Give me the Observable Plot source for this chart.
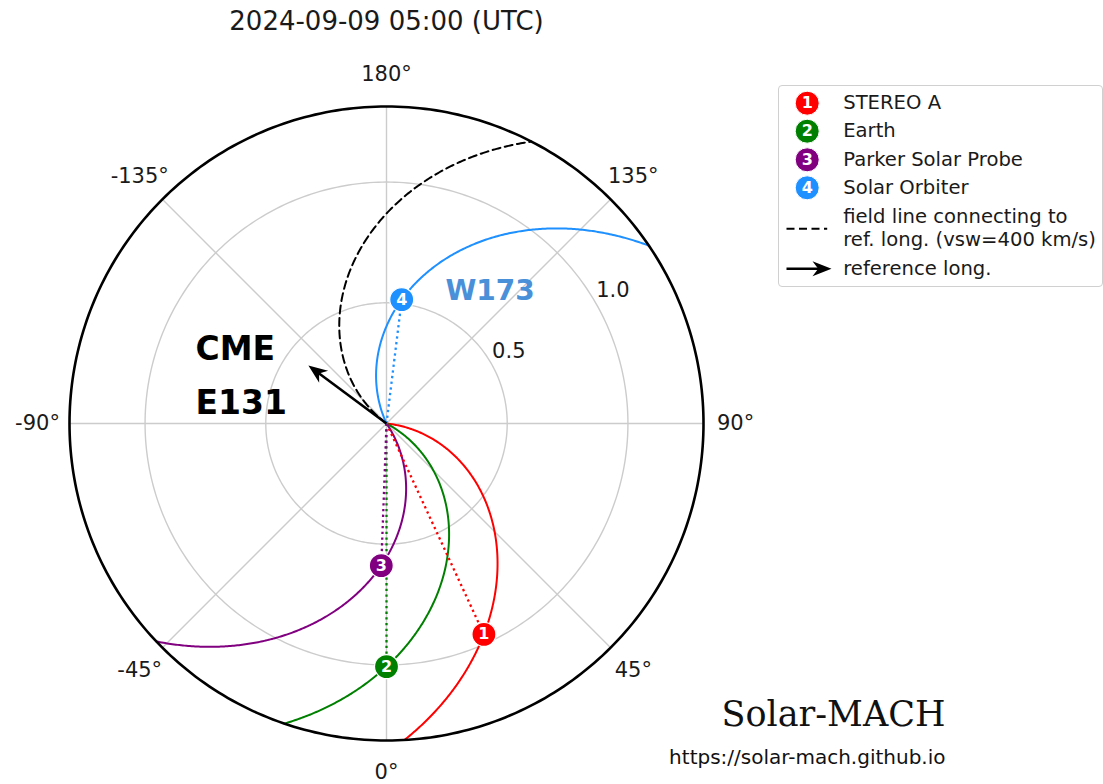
<!DOCTYPE html>
<html><head><meta charset="utf-8">
<script src="https://cdn.jsdelivr.net/npm/d3@7"></script>
<script src="https://cdn.jsdelivr.net/npm/@observablehq/plot@0.6"></script>
<style>
html,body{margin:0;padding:0;background:#fff;}
#wrap{position:relative;width:1103px;height:784px;overflow:hidden;font-family:"DejaVu Sans",sans-serif;}
#legend{position:absolute;left:778px;top:85px;width:325px;height:202px;border:1px solid #d0d0d0;border-radius:4px;background:#fff;box-sizing:border-box;}
#legend svg, #main svg{display:block;}
</style></head><body><div id="wrap"><div id="main"></div><div id="legend"></div></div>
<script>
// ---- data ----
const spacecraft   = ["STEREO A", "Earth", "Parker Solar Probe", "Solar Orbiter"];
const scNumbers    = ["1", "2", "3", "4"];
const scColors     = ["#ff0000", "#008000", "#800080", "#1e90ff"];
const scLongitudes = [24.8, 0.0, -2.1, 173.0];   // deg (Stonyhurst)
const scDistances  = [0.962, 1.007, 0.589, 0.517]; // AU
const refLongitude = -126.6;   // plotted reference direction (deg)
const refArrowLength = 0.403;  // AU
const vsw = 400;               // km/s
const rMax = 1.313;            // AU
const angleTicks  = [0, 45, 90, 135, 180, -135, -90, -45];
const radialTicks = [0.5, 1.0];
const titleText = "2024-09-09 05:00 (UTC)";
const refLabel = "CME\nE131";
const soloLabel = "W173";

// ---- geometry helpers ----
const AU = 1.495978707e8; // km
const omegaDeg = 360 / (25.38 * 86400); // deg/s, sidereal
const k = omegaDeg * AU / vsw; // deg per AU
const rad = d => d * Math.PI / 180;
const P = (r, deg) => ({x: r * Math.sin(rad(deg)), y: -r * Math.cos(rad(deg))});
const rSteps = d3.range(0, 301).map(i => rMax * i / 300);

const scs = spacecraft.map((name, i) => ({
  name, num: scNumbers[i], color: scColors[i], lon: scLongitudes[i], r: scDistances[i],
  ...P(scDistances[i], scLongitudes[i])
}));

const spirals = scs.flatMap(s => rSteps.map(r => ({name: s.name, color: s.color, ...P(r, s.lon + k * (s.r - r))})));
const refSpiral = rSteps.map(r => P(r, refLongitude - k * r));

const circles = [...radialTicks, rMax].flatMap(rr => d3.range(0, 361).map(a => ({ring: rr, ...P(rr, a)})));
const gridCircles = circles.filter(d => d.ring !== rMax);
const outerCircle = circles.filter(d => d.ring === rMax);
const spokes = angleTicks.map(a => ({a, ...P(rMax, a)}));
const angleLabels = angleTicks.map(a => ({label: `${a}°`, ...P(rMax * 1.101, a)}));
const radialLabels = radialTicks.map(v => ({label: v.toFixed(1), ...P(v + 0.088, 120.5)}));

function arrowHeadSymbol(thetaDeg, L, w) {
  const ux = Math.sin(rad(thetaDeg)), uy = Math.cos(rad(thetaDeg)); // screen direction
  const nx = -uy, ny = ux;
  return {
    draw(ctx) {
      ctx.moveTo(0, 0);
      ctx.lineTo(-L * ux + w / 2 * nx, -L * uy + w / 2 * ny);
      ctx.lineTo(-0.7 * L * ux, -0.7 * L * uy);
      ctx.lineTo(-L * ux - w / 2 * nx, -L * uy - w / 2 * ny);
      ctx.closePath();
    }
  };
}

const tip = P(refArrowLength, refLongitude);
const shaftEnd = P(refArrowLength - 0.045, refLongitude);
const origin = {x: 0, y: 0};

const font = "DejaVu Sans";
const main = Plot.plot({
  width: 1103, height: 784,
  marginLeft: 69, marginRight: 400, marginTop: 106, marginBottom: 44,
  x: {domain: [-rMax, rMax], axis: null},
  y: {domain: [-rMax, rMax], axis: null},
  color: {type: "identity"},
  style: {fontFamily: font, background: "white", overflow: "visible"},
  marks: [
    Plot.line(gridCircles, {x: "x", y: "y", z: "ring", stroke: "#cccccc", strokeWidth: 1.4}),
    Plot.link(spokes, {x1: 0, y1: 0, x2: "x", y2: "y", stroke: "#cccccc", strokeWidth: 1.4}),
    Plot.text(radialLabels, {x: "x", y: "y", text: "label", fontSize: 21, fill: "#1a1a1a"}),
    Plot.line(refSpiral, {x: "x", y: "y", stroke: "black", strokeWidth: 2, strokeDasharray: "8,4.5"}),
    Plot.line(spirals, {x: "x", y: "y", z: "name", stroke: "color", strokeWidth: 2}),
    Plot.link(scs, {x1: 0, y1: 0, x2: "x", y2: "y", stroke: "color", strokeWidth: 2.3, strokeDasharray: "2.3,3.4"}),
    Plot.link([0], {x1: origin.x, y1: origin.y, x2: shaftEnd.x, y2: shaftEnd.y, stroke: "black", strokeWidth: 2.6}),
    Plot.dot([tip], {x: "x", y: "y", symbol: arrowHeadSymbol(refLongitude, 19, 15), r: 10, fill: "black", stroke: "none"}),
    Plot.line(outerCircle, {x: "x", y: "y", stroke: "black", strokeWidth: 2.6}),
    Plot.dot(scs, {x: "x", y: "y", r: 12, fill: "color", stroke: "white", strokeWidth: 1.2}),
    Plot.text(scs, {x: "x", y: "y", text: "num", fill: "white", fontWeight: "bold", fontSize: 16}),
    Plot.text(angleLabels, {x: "x", y: "y", text: "label", fontSize: 21, fill: "#1a1a1a"}),
    Plot.text([refLabel], {x: -0.791, y: 0.041, text: d => d, textAnchor: "start", lineAnchor: "bottom", lineHeight: 1.62, fontSize: 33, fontWeight: "bold", fill: "black"}),
    Plot.text([soloLabel], {x: 0.244, y: 0.5095, text: d => d, textAnchor: "start", lineAnchor: "bottom", fontSize: 28, fontWeight: "bold", fill: "#4a90d9"}),
    Plot.text([titleText], {frameAnchor: "top", dy: -77, lineAnchor: "bottom", text: d => d, fontSize: 26, fill: "#1a1a1a"}),
    Plot.text(["Solar-MACH"], {frameAnchor: "bottom-right", dx: 242, dy: -14.3, textAnchor: "end", lineAnchor: "bottom", text: d => d, fontSize: 35, fontFamily: "DejaVu Serif", fill: "#111"}),
    Plot.text(["https://solar-mach.github.io"], {frameAnchor: "bottom-right", dx: 242, dy: 23, textAnchor: "end", lineAnchor: "bottom", text: d => d, fontSize: 20, fill: "#111"})
  ]
});
document.getElementById("main").appendChild(main);

// ---- legend ----
const rowY = [16.7, 44.7, 73.3, 101.3];
const legendRows = scs.map((s, i) => ({...s, lx: 27.7, ly: rowY[i]}));
const legendTexts = [
  ...spacecraft.map((t, i) => ({t, y: rowY[i]})),
  {t: "field line connecting to", y: 130.7},
  {t: "ref. long. (vsw=400 km/s)", y: 153.3},
  {t: "reference long.", y: 182.3}
];
const legend = Plot.plot({
  width: 323, height: 200, margin: 0,
  x: {type: "identity", axis: null}, y: {type: "identity", axis: null},
  color: {type: "identity"},
  style: {fontFamily: font, background: "transparent", overflow: "visible"},
  marks: [
    Plot.dot(legendRows, {x: "lx", y: "ly", r: 12, fill: "color", stroke: "white", strokeWidth: 1}),
    Plot.text(legendRows, {x: "lx", y: "ly", text: "num", fill: "white", fontWeight: "bold", fontSize: 16}),
    Plot.text(legendTexts, {x: 63.7, y: "y", text: "t", textAnchor: "start", fontSize: 19.6, fill: "#1a1a1a"}),
    Plot.link([0], {x1: 7, y1: 142.3, x2: 47.7, y2: 142.3, stroke: "black", strokeWidth: 2, strokeDasharray: "8,4.5"}),
    Plot.link([0], {x1: 7, y1: 182.3, x2: 40, y2: 182.3, stroke: "black", strokeWidth: 2.6}),
    Plot.dot([0], {x: 52, y: 182.3, symbol: arrowHeadSymbol(90, 19, 15), r: 10, fill: "black", stroke: "none"})
  ]
});
document.getElementById("legend").appendChild(legend);
</script></body></html>
